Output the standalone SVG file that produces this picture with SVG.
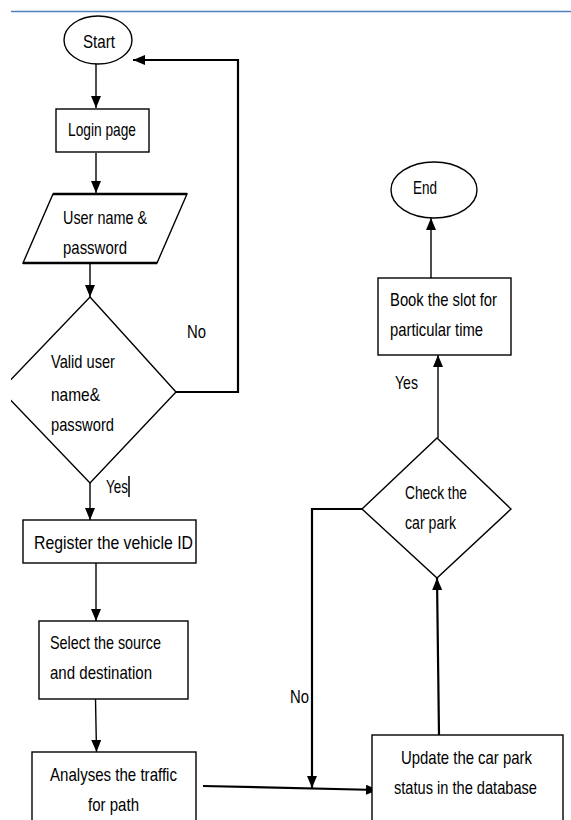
<svg xmlns="http://www.w3.org/2000/svg" width="571" height="820" viewBox="0 0 571 820">
<style>
.s{fill:#fff;stroke:#000;stroke-width:1.4}
.t{font-family:"Liberation Sans",Arial,sans-serif;font-size:18.5px;fill:#000}
.c{fill:none;stroke:#000;stroke-width:1.4}
.k{fill:none;stroke:#000;stroke-width:2.2}
</style>
<defs>
<marker id="a" markerUnits="userSpaceOnUse" markerWidth="12" markerHeight="10" refX="12" refY="5" orient="auto"><path d="M0,0 L12,5 L0,10 z" fill="#000"/></marker>
<clipPath id="cl"><rect x="11" y="0" width="560" height="820"/></clipPath>
</defs>
<rect width="571" height="820" fill="#fff"/>
<line x1="11" y1="11.5" x2="571" y2="11.5" stroke="#4f81bd" stroke-width="1.6"/>

<g id="connectors">
<line class="c" x1="96" y1="63" x2="96" y2="108" marker-end="url(#a)"/>
<line class="c" x1="96" y1="153" x2="96" y2="193" marker-end="url(#a)"/>
<line class="c" x1="90" y1="264" x2="90" y2="297" marker-end="url(#a)"/>
<polyline class="k" points="176,392 238,392 238,60 133,60" marker-end="url(#a)"/>
<line class="c" x1="90" y1="483" x2="90" y2="520" marker-end="url(#a)"/>
<line class="c" x1="96" y1="563" x2="96" y2="621" marker-end="url(#a)"/>
<line class="c" x1="95.5" y1="699" x2="96.5" y2="752" marker-end="url(#a)"/>
<line class="k" x1="203" y1="786" x2="378" y2="790" marker-end="url(#a)"/>
<line class="k" x1="439" y1="735" x2="437" y2="578" marker-end="url(#a)"/>
<polyline class="k" points="362,509 312,509 312,788" marker-end="url(#a)"/>
<line class="c" x1="438" y1="438" x2="438" y2="355" marker-end="url(#a)"/>
<line class="c" x1="431" y1="278" x2="431" y2="218" marker-end="url(#a)"/>
</g>

<g id="start">
<ellipse class="s" cx="98" cy="40" rx="34" ry="24"/>
<text class="t" x="83" y="48" textLength="32" lengthAdjust="spacingAndGlyphs">Start</text>
</g>
<g id="login">
<rect class="s" x="56" y="109" width="93" height="43"/>
<text class="t" x="68" y="136" textLength="68" lengthAdjust="spacingAndGlyphs">Login page</text>
</g>
<g id="credentials">
<polygon class="s" points="53,194 187,194 157,263 23,263"/>
<line x1="53" y1="194" x2="187" y2="194" stroke="#000" stroke-width="2.5"/>
<line x1="23" y1="263" x2="157" y2="263" stroke="#000" stroke-width="2.5"/>
<text class="t" x="63" y="224" textLength="84" lengthAdjust="spacingAndGlyphs">User name &amp;</text>
<text class="t" x="63" y="254" textLength="64" lengthAdjust="spacingAndGlyphs">password</text>
</g>
<g id="valid">
<polygon class="s" clip-path="url(#cl)" points="90,297 176,392 90,483 1,390"/>
<text class="t" x="51" y="368" textLength="64" lengthAdjust="spacingAndGlyphs">Valid user</text>
<text class="t" x="51" y="401" textLength="49" lengthAdjust="spacingAndGlyphs">name&amp;</text>
<text class="t" x="51" y="431" textLength="63" lengthAdjust="spacingAndGlyphs">password</text>
</g>
<g id="labels">
<text class="t" x="187" y="338" textLength="19" lengthAdjust="spacingAndGlyphs">No</text>
<text class="t" x="106" y="493" textLength="22" lengthAdjust="spacingAndGlyphs">Yes</text>
<line x1="129" y1="476" x2="129" y2="497" stroke="#000" stroke-width="1.5"/>
<text class="t" x="395" y="389" textLength="23" lengthAdjust="spacingAndGlyphs">Yes</text>
<text class="t" x="290" y="703" textLength="19" lengthAdjust="spacingAndGlyphs">No</text>
</g>
<g id="register">
<rect class="s" x="23" y="520" width="173" height="43"/>
<text class="t" x="34" y="549" textLength="159" lengthAdjust="spacingAndGlyphs">Register the vehicle ID</text>
</g>
<g id="select">
<rect class="s" x="39" y="621" width="149" height="78"/>
<text class="t" x="50" y="649" textLength="111" lengthAdjust="spacingAndGlyphs">Select the source</text>
<text class="t" x="50" y="679" textLength="102" lengthAdjust="spacingAndGlyphs">and destination</text>
</g>
<g id="analyses">
<rect class="s" x="32" y="752" width="164" height="80"/>
<text class="t" x="50" y="781" textLength="127" lengthAdjust="spacingAndGlyphs">Analyses the traffic</text>
<text class="t" x="88" y="811" textLength="51" lengthAdjust="spacingAndGlyphs">for path</text>
</g>
<g id="update">
<rect class="s" x="372" y="735" width="191" height="100"/>
<text class="t" x="401" y="764" textLength="131" lengthAdjust="spacingAndGlyphs">Update the car park</text>
<text class="t" x="394" y="794" textLength="143" lengthAdjust="spacingAndGlyphs">status in the database</text>
</g>
<g id="check">
<polygon class="s" points="437,438 511,509 437,578 362,509"/>
<text class="t" x="405" y="499" textLength="62" lengthAdjust="spacingAndGlyphs">Check the</text>
<text class="t" x="405" y="529" textLength="51" lengthAdjust="spacingAndGlyphs">car park</text>
</g>
<g id="book">
<rect class="s" x="378" y="278" width="133" height="77"/>
<text class="t" x="390" y="306" textLength="107" lengthAdjust="spacingAndGlyphs">Book the slot for</text>
<text class="t" x="390" y="336" textLength="93" lengthAdjust="spacingAndGlyphs">particular time</text>
</g>
<g id="end">
<ellipse class="s" cx="434" cy="190" rx="43" ry="28"/>
<text class="t" x="413" y="194" textLength="24" lengthAdjust="spacingAndGlyphs">End</text>
</g>
</svg>
